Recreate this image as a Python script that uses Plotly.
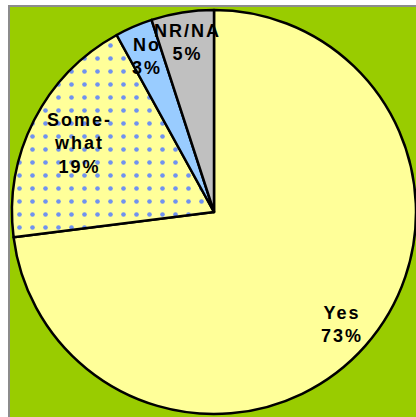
import math
import plotly.graph_objects as go

labels = ["Yes", "Some-what", "No", "NR/NA"]
label_text = ["Yes", "Some-<br>what", "No", "NR/NA"]
values = [73, 19, 3, 5]
colors = ["#FFFF99", "#FFFF99", "#99CCFF", "#C0C0C0"]
patterns = ["", ".", "", ""]
label_radius = [0.845, 0.75, 0.84, 0.85]   # style: radial position of each label

W, H = 416, 417
cx, cy, r = 214, 212, 202

fig = go.Figure(go.Pie(
    labels=labels,
    values=values,
    textinfo="none",
    sort=False,
    direction="clockwise",
    rotation=0,
    marker=dict(colors=colors, line=dict(color="black", width=2.5),
                pattern=dict(shape=patterns, fgcolor="#7092F0", bgcolor="#FFFF99",
                             size=13, solidity=0.1)),
    domain=dict(x=[(cx - r) / W, (cx + r) / W], y=[(H - cy - r) / H, (H - cy + r) / H]),
    showlegend=False,
    hoverinfo="skip",
))

# labels placed along each slice's mid-angle, computed from the data
total = sum(values)
annotations = []
cum = 0
sp = '<span style="letter-spacing:2px">'
for txt, v, f in zip(label_text, values, label_radius):
    mid = (cum + v / 2) / total * 2 * math.pi
    cum += v
    d = f * r
    lines = (txt + "<br>" + f"{v}%").split("<br>")
    annotations.append(dict(
        x=(cx + d * math.sin(mid)) / W,
        y=(H - cy + d * math.cos(mid)) / H,
        xref="paper", yref="paper", showarrow=False,
        xanchor="center", yanchor="middle",
        text="<br>".join(sp + ln + "</span>" for ln in lines),
        font=dict(family="Liberation Sans, Arial", size=18, color="black", weight="bold"),
        align="center",
    ))

fig.update_layout(
    width=W, height=H,
    margin=dict(l=0, r=0, t=0, b=0),
    paper_bgcolor="white",
    annotations=annotations,
    shapes=[dict(type="rect", xref="paper", yref="paper", x0=9 / W, x1=1.05, y0=-0.05, y1=1 - 6 / H,
                 fillcolor="#99CC00", line=dict(color="#8C8C8C", width=2), layer="below")],
)

fig.write_html("out.html")
